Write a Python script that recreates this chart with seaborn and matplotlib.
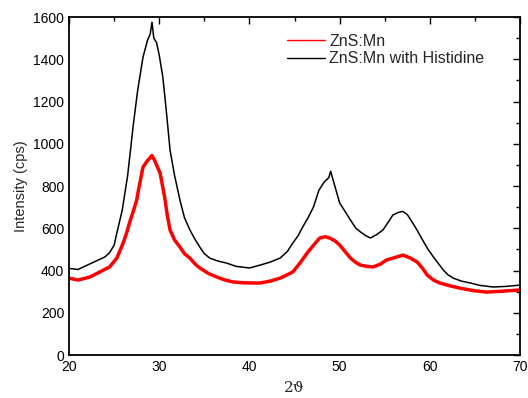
import pandas as pd
import seaborn as sns
from matplotlib import pyplot as plt
from matplotlib.ticker import MultipleLocator

# values (2theta in degrees, intensity in cps)
x_znsmn = [20, 21, 22.3, 23.4, 24.5, 25.3, 26.0, 26.4, 26.8, 27.2, 27.5, 27.7, 28.2, 28.7,
           29.2, 29.5, 30.1, 30.6, 30.9, 31.2, 31.7, 32.3, 32.8, 33.4, 34.0, 34.5, 35.5,
           36.4, 37.3, 38.2, 39.3, 40.4, 41.2, 42.3, 43.4, 44.1, 44.8, 45.6, 46.4, 47.1,
           47.8, 48.4, 48.9, 49.5, 50.0, 50.6, 51.2, 51.8, 52.3, 53.0, 53.7, 54.5, 55.2,
           56.0, 57.0, 57.8, 58.6, 59.2, 59.7, 60.4, 61.1, 62.2, 63.3, 64.8, 66.3, 68, 70]
y_znsmn = [364, 355, 369, 393, 417, 459, 530, 580, 639, 690, 733, 781, 890, 920,
           945, 920, 861, 748, 660, 592, 545, 511, 480, 459, 430, 412, 385,
           369, 355, 346, 342, 341, 341, 350, 364, 378, 393, 435, 483, 520,
           554, 560, 554, 540, 521, 490, 459, 438, 426, 420, 417, 430, 450,
           460, 473, 460, 440, 410, 379, 355, 341, 328, 317, 305, 298, 302, 308]

x_hist = [20, 21, 22, 23, 24, 24.5, 25, 25.3, 25.9, 26.5, 27.1, 27.6, 28.2, 28.7, 29.0,
          29.2, 29.4, 29.7, 30.0, 30.4, 30.8, 31.2, 31.7, 32.3, 32.8, 33.4, 34.0, 34.5,
          35.0, 35.6, 36.5, 37.5, 38.5, 40, 41.2, 42.3, 43.4, 44.2, 44.8, 45.4, 45.9,
          46.5, 47.1, 47.7, 48.3, 48.8, 49.0, 49.4, 50.0, 50.6, 51.2, 51.8, 52.3, 52.9,
          53.4, 54.1, 54.8, 55.4, 55.9, 56.5, 57.0, 57.5, 58.1, 58.6, 59.2, 59.8, 60.4,
          61.0, 61.5, 62.0, 62.6, 63.5, 64.5, 65.5, 67, 68.5, 70]
y_hist = [410, 405, 425, 445, 465, 485, 520, 577, 686, 850, 1080, 1250, 1410, 1490, 1520,
          1576, 1500, 1480, 1420, 1316, 1150, 970, 850, 733, 650, 592, 545, 511,
          480, 459, 445, 435, 420, 412, 426, 440, 459, 490, 530, 565, 606,
          650, 701, 780, 820, 840, 870, 810, 720, 680, 639, 600, 583, 565,
          554, 570, 592, 630, 663, 675, 680, 665, 625, 590, 544, 500, 464,
          430, 402, 380, 364, 350, 341, 330, 322, 325, 331]

df_a = pd.DataFrame({'two_theta': x_znsmn, 'intensity': y_znsmn})
df_b = pd.DataFrame({'two_theta': x_hist, 'intensity': y_hist})

sns.set_style('white')
plt.rcParams['font.family'] = ['Liberation Sans', 'DejaVu Sans']

fig = plt.figure(figsize=(5.28, 3.98), dpi=100)
ax = fig.add_axes([0.1307, 0.108, 0.8543, 0.849])

sns.lineplot(data=df_a, x='two_theta', y='intensity', ax=ax, color='#ff0000',
             linewidth=2.5, label='ZnS:Mn', estimator=None)
sns.lineplot(data=df_b, x='two_theta', y='intensity', ax=ax, color='black',
             linewidth=1.1, label='ZnS:Mn with Histidine', estimator=None)

ax.set_xlim(20, 70)
ax.set_ylim(0, 1600)
ax.xaxis.set_major_locator(MultipleLocator(10))
ax.xaxis.set_minor_locator(MultipleLocator(5))
ax.yaxis.set_major_locator(MultipleLocator(200))
ax.yaxis.set_minor_locator(MultipleLocator(100))
ax.tick_params(which='both', direction='in', top=True, right=True, colors='black',
               labelsize=10, width=1)
ax.tick_params(which='major', length=5)
ax.tick_params(which='minor', length=3)
for s in ax.spines.values():
    s.set_linewidth(1.3)
    s.set_color('black')

ax.set_ylabel('Intensity (cps)', fontsize=10.5, labelpad=4)
ax.set_xlabel('2ϑ', fontsize=11, family=['DejaVu Serif'], labelpad=5)

leg = ax.legend(loc='upper left', bbox_to_anchor=(0.483, 0.95), frameon=False,
                fontsize=11.5, handlelength=2.4, handletextpad=0.25, labelspacing=0.15,
                borderaxespad=0, borderpad=0)
for line in leg.get_lines():
    line.set_linewidth(1.0)

fig.savefig('out.png', dpi=100)
